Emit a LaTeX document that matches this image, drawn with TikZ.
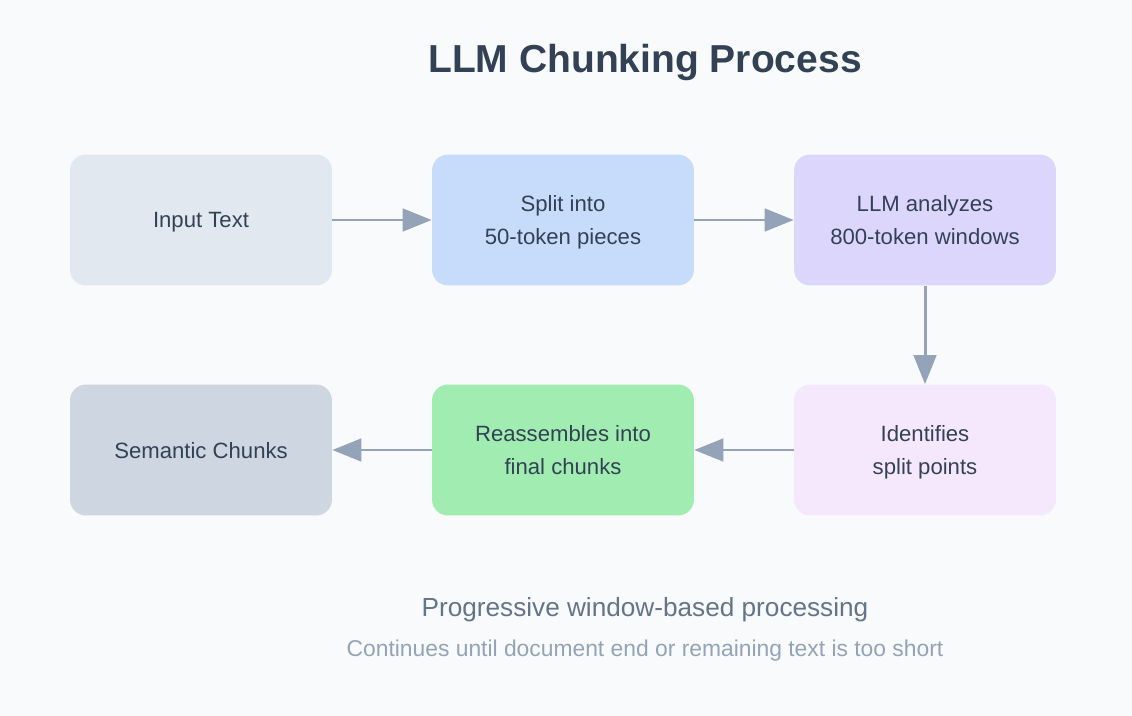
\documentclass[tikz,border=0pt]{standalone}
\usepackage{fontspec}
\setmainfont{Liberation Sans}
\usetikzlibrary{arrows.meta}
\definecolor{bgcol}{HTML}{F8FAFC}
\definecolor{inkcol}{HTML}{334155}
\definecolor{subcol}{HTML}{64748B}
\definecolor{notecol}{HTML}{94A3B8}
\definecolor{arrowcol}{HTML}{94A3B8}
\definecolor{inputcol}{HTML}{E2E8F0}
\definecolor{splitcol}{HTML}{C6DCFA}
\definecolor{llmcol}{HTML}{DDD6FC}
\definecolor{identcol}{HTML}{F5E8FC}
\definecolor{reasscol}{HTML}{A1EDB1}
\definecolor{chunkcol}{HTML}{CED6E1}
\begin{document}
\begin{tikzpicture}[x=0.02cm, y=-0.02cm,
    box/.style={rounded corners=0.32cm, minimum width=5.24cm, minimum height=2.62cm,
        align=center, text=inkcol, text depth=-5pt, font=\fontsize{12.6}{18.7}\selectfont},
    flow/.style={draw=arrowcol, line width=1.7pt, -{Triangle[length=0.58cm, width=0.45cm]}}]
    \fill[bgcol] (0,0) rectangle (1132,716);
    \useasboundingbox (0,0) rectangle (1132,716);

    % Title
    \node[anchor=base, text=inkcol, font=\fontsize{22.2}{26}\selectfont\bfseries] (title) at (645,73) {LLM Chunking Process};

    % Row 1
    \node[box, fill=inputcol] (input) at (201,220) {Input Text};
    \node[box, fill=splitcol] (split) at (563,220) {Split into\\50-token pieces};
    \node[box, fill=llmcol] (llm) at (925,220) {LLM analyzes\\800-token windows};

    % Row 2
    \node[box, fill=identcol] (ident) at (925,450) {Identifies\\split points};
    \node[box, fill=reasscol] (reass) at (563,450) {Reassembles into\\final chunks};
    \node[box, fill=chunkcol] (chunks) at (201,450) {Semantic Chunks};

    \draw[flow] (input) -- (split);
    \draw[flow] (split) -- (llm);
    \draw[flow] (llm) -- (ident);
    \draw[flow] (ident) -- (reass);
    \draw[flow] (reass) -- (chunks);

    % Notes
    \node[anchor=base, text=subcol, font=\fontsize{14.9}{18}\selectfont] (sub) at (645,616) {Progressive window-based processing};
    \node[anchor=base, text=notecol, font=\fontsize{13}{16}\selectfont] (note) at (645,656) {Continues until document end or remaining text is too short};
\end{tikzpicture}
\end{document}
